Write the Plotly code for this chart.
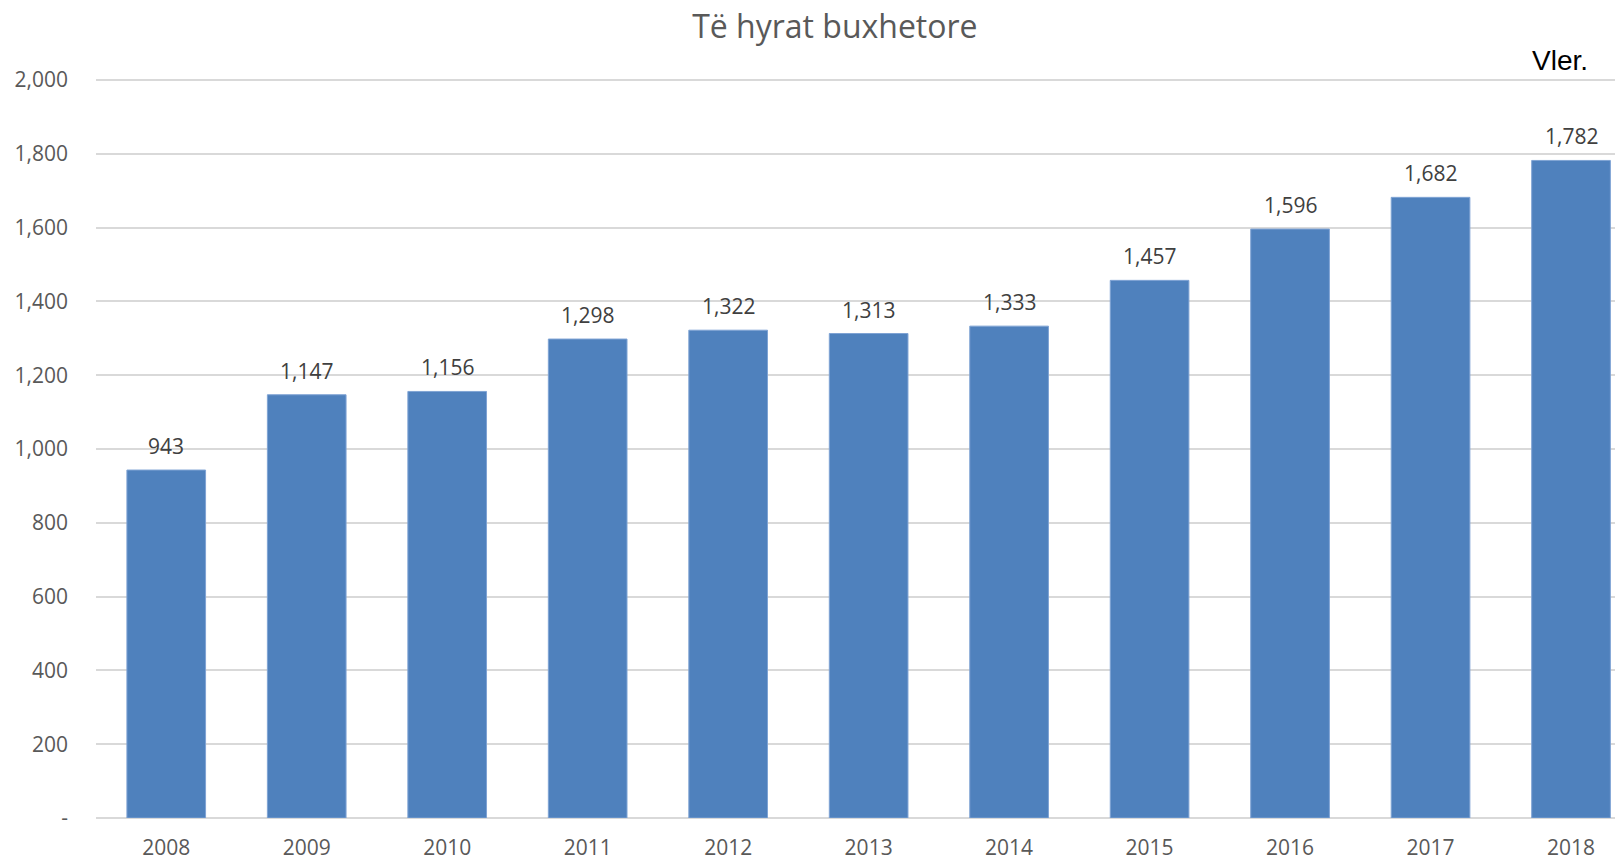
import plotly.graph_objects as go

years = ["2008", "2009", "2010", "2011", "2012", "2013", "2014", "2015", "2016", "2017", "2018"]
revenue = [943, 1147, 1156, 1298, 1322, 1313, 1333, 1457, 1596, 1682, 1782]

y_ticks = [0, 200, 400, 600, 800, 1000, 1200, 1400, 1600, 1800, 2000]
y_tick_labels = ["-", "200", "400", "600", "800", "1,000", "1,200", "1,400", "1,600", "1,800", "2,000"]

BAR = "#4F81BD"
GRID = "#D9D9D9"
GREY = "#595959"

fig = go.Figure()

fig.add_trace(
    go.Bar(
        x=years,
        y=revenue,
        width=0.56,
        marker=dict(color=BAR, line=dict(color="#7FA3D4", width=1)),
        hovertemplate="%{x}<br>%{y:,.0f}<extra></extra>",
    )
)

# value labels above the bars (category index as x)
for i, v in enumerate(revenue):
    fig.add_annotation(
        x=i,
        y=v,
        xref="x",
        yref="y",
        text=f"{v:,}",
        showarrow=False,
        yanchor="bottom",
        yshift=8,
        font=dict(family="Open Sans", size=21, color="#404040"),
    )

fig.add_annotation(
    xref="paper",
    yref="paper",
    x=0.9588,
    y=1.017,
    text="Vler.",
    showarrow=False,
    xanchor="center",
    yanchor="middle",
    font=dict(family="Liberation Sans", size=28, color="#000000"),
)

# page body has an 8px margin, so the figure is sized to the remaining viewport
fig.update_layout(
    template="plotly_white",
    width=1615,
    height=851,
    title=dict(
        text="Të hyrat buxhetore",
        x=0.512,
        xanchor="center",
        y=0.978,
        yanchor="middle",
        font=dict(family="Open Sans", size=32, color=GREY),
    ),
    font=dict(family="Open Sans", size=21, color=GREY),
    margin=dict(l=88, r=0, t=65, b=41),
    plot_bgcolor="white",
    paper_bgcolor="white",
    showlegend=False,
)

fig.update_xaxes(
    type="category",
    range=[-0.5, 10.37],
    showgrid=False,
    showline=False,
    ticks="",
    ticklabelstandoff=15,
    automargin=False,
    tickfont=dict(family="Open Sans", size=21, color=GREY),
)

fig.update_yaxes(
    range=[0, 2019],
    tickvals=y_ticks,
    ticktext=y_tick_labels,
    showgrid=True,
    gridcolor=GRID,
    gridwidth=2,
    zeroline=True,
    zerolinecolor=GRID,
    zerolinewidth=2,
    ticks="",
    ticklabelstandoff=27,
    automargin=False,
    tickfont=dict(family="Open Sans", size=21, color=GREY),
)

fig.write_html("out.html")
